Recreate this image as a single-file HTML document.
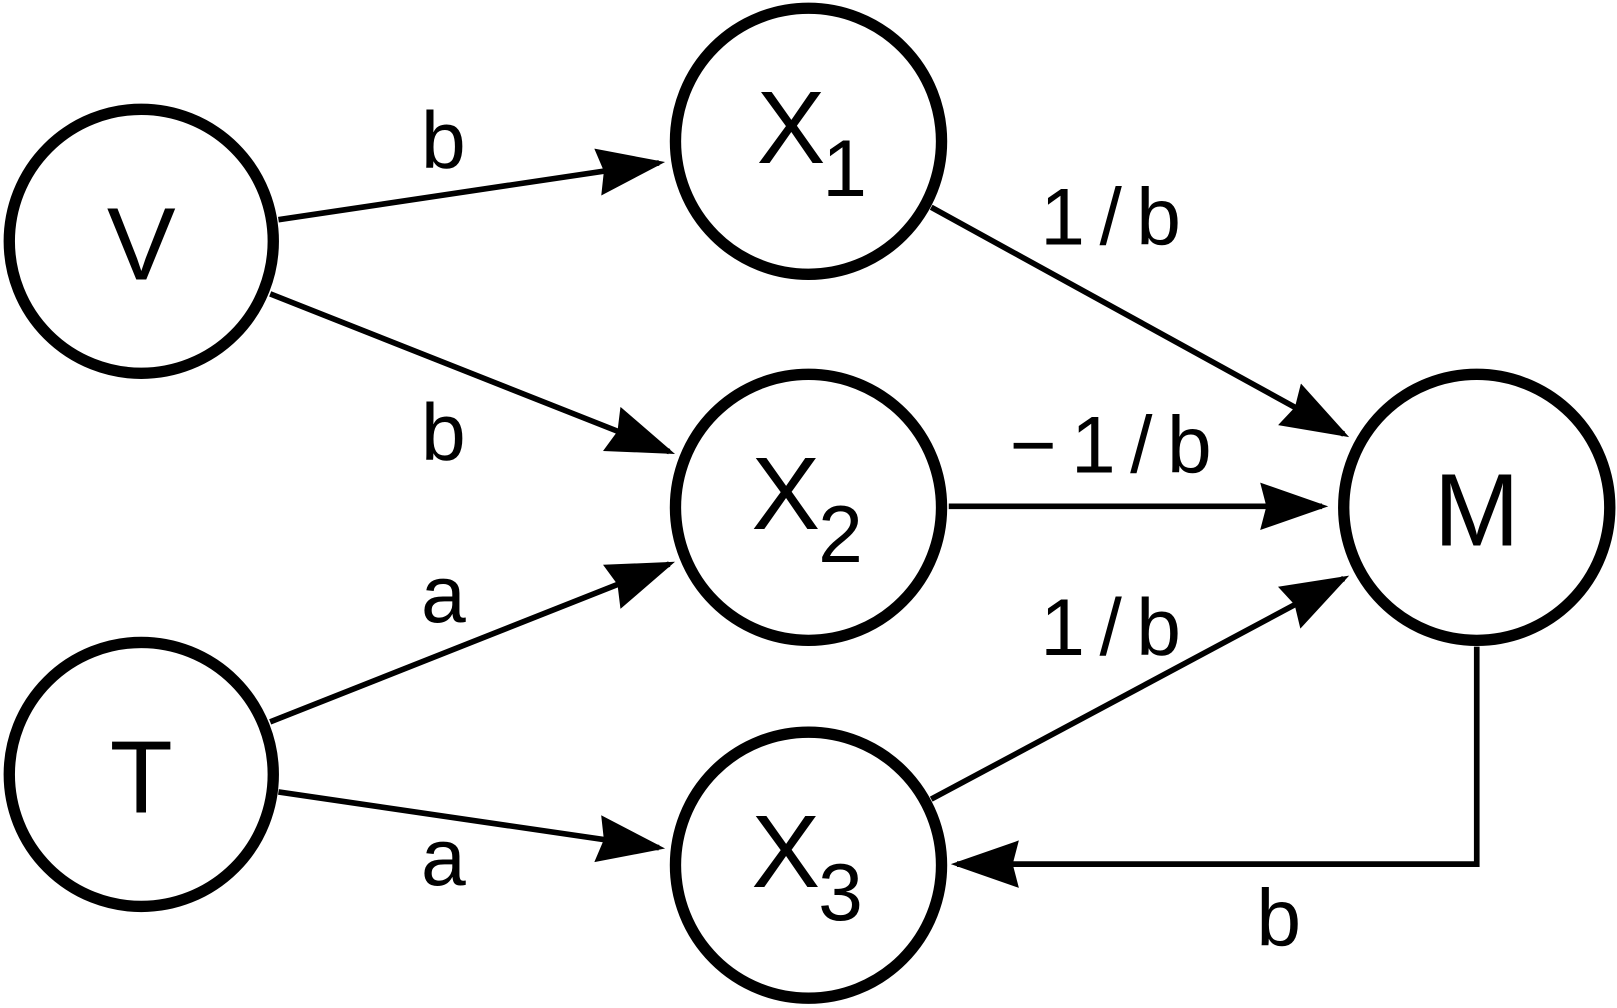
<!DOCTYPE html>
<html><head><meta charset="utf-8"><style>
html,body{margin:0;padding:0;background:#fff;}
svg{display:block;}
text{font-family:"Liberation Sans","DejaVu Sans",sans-serif;fill:#000;font-weight:normal;}
</style></head><body>
<svg width="1617" height="1008" viewBox="0 0 1568 977.5" preserveAspectRatio="none" xmlns="http://www.w3.org/2000/svg">
<defs>
<marker id="ah" markerUnits="userSpaceOnUse" markerWidth="70" markerHeight="50" refX="60" refY="23" orient="auto">
<path d="M0,0 L66,23 L0,46 L6,23 Z" fill="#000"/>
</marker>
</defs>
<g fill="#fff" stroke="#000" stroke-width="11">
<circle cx="137" cy="234" r="128"/>
<circle cx="137" cy="751" r="128"/>
<circle cx="784" cy="137" r="129"/>
<circle cx="784" cy="492" r="129"/>
<circle cx="784" cy="839" r="129"/>
<circle cx="1432" cy="492" r="129"/>
</g>
<g stroke="#000" stroke-width="5.5" fill="none" stroke-linecap="butt" marker-end="url(#ah)">
<line x1="270" y1="213" x2="639" y2="158"/>
<line x1="262" y1="285" x2="649" y2="438"/>
<line x1="262" y1="700" x2="649" y2="547"/>
<line x1="270" y1="768" x2="639" y2="822"/>
<line x1="903" y1="201" x2="1303" y2="421"/>
<line x1="920" y1="491" x2="1282" y2="491"/>
<line x1="903" y1="775" x2="1303" y2="561"/>
<polyline points="1432,627 1432,838 928,838"/>
</g>
<g font-size="100" text-anchor="middle">
<text x="137" y="271">V</text>
<text x="137" y="788">T</text>
<text x="1432" y="529">M</text>
<text x="767" y="158">X</text><text x="819" y="190" font-size="78">1</text>
<text x="762" y="513">X</text><text x="815" y="545" font-size="78">2</text>
<text x="762" y="860">X</text><text x="815" y="892" font-size="78">3</text>
</g>
<g font-size="78" text-anchor="middle" letter-spacing="14">
<text x="1084" y="237">1/b</text>
<text x="1084" y="458">−1/b</text>
<text x="1084" y="635">1/b</text>
</g>
<g font-size="78" text-anchor="middle">
<text x="430" y="163">b</text>
<text x="430" y="446">b</text>
<text x="430" y="603">a</text>
<text x="430" y="858">a</text>
<text x="1240" y="917">b</text>
</g>
</svg>
</body></html>
